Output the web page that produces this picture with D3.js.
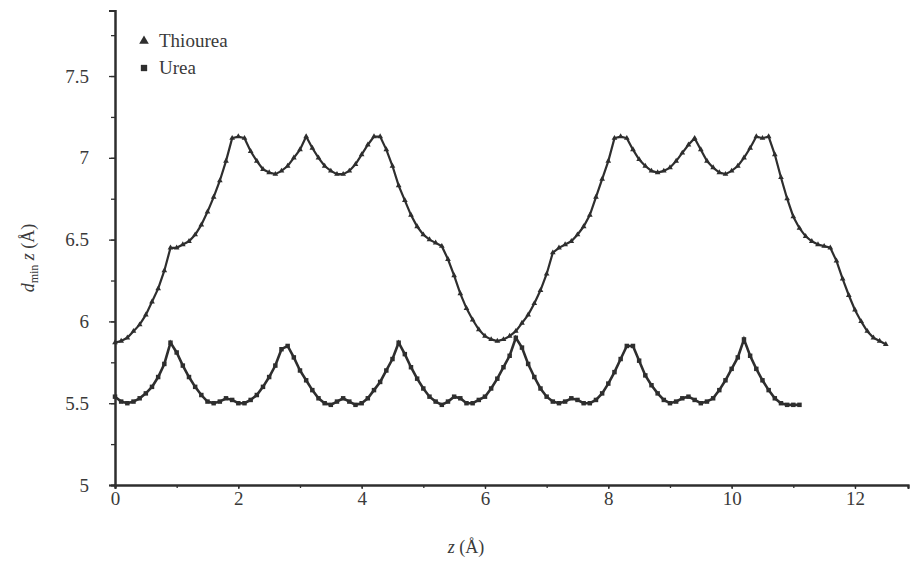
<!DOCTYPE html>
<html>
<head>
<meta charset="utf-8">
<script src="https://cdn.jsdelivr.net/npm/d3@7"></script>
<style>
  body { margin: 0; background: #fff; }
  text { font-family: "Liberation Serif", "DejaVu Serif", serif; fill: #3a3a3a; }
</style>
</head>
<body>
<div id="chart"></div>
<script>
// data
const thioureaZ = [0,0.1,0.2,0.3,0.4,0.5,0.6,0.7,0.8,0.9,1,1.1,1.2,1.3,1.4,1.5,1.6,1.7,1.8,1.9,2,2.1,2.2,2.3,2.4,2.5,2.6,2.7,2.8,2.9,3,3.1,3.2,3.3,3.4,3.5,3.6,3.7,3.8,3.9,4,4.1,4.2,4.3,4.4,4.5,4.6,4.7,4.8,4.9,5,5.1,5.2,5.3,5.4,5.5,5.6,5.7,5.8,5.9,6,6.1,6.2,6.3,6.4,6.5,6.6,6.7,6.8,6.9,7,7.1,7.2,7.3,7.4,7.5,7.6,7.7,7.8,7.9,8,8.1,8.2,8.3,8.4,8.5,8.6,8.7,8.8,8.9,9,9.1,9.2,9.3,9.4,9.5,9.6,9.7,9.8,9.9,10,10.1,10.2,10.3,10.4,10.5,10.6,10.7,10.8,10.9,11,11.1,11.2,11.3,11.4,11.5,11.6,11.7,11.8,11.9,12,12.1,12.2,12.3,12.4,12.5];
const thioureaD = [5.87,5.88,5.90,5.94,5.98,6.04,6.12,6.20,6.31,6.45,6.45,6.47,6.49,6.53,6.59,6.67,6.76,6.86,6.98,7.12,7.13,7.12,7.04,6.98,6.93,6.91,6.90,6.92,6.95,7.00,7.05,7.13,7.06,7.00,6.95,6.92,6.90,6.90,6.92,6.96,7.02,7.08,7.13,7.13,7.05,6.95,6.83,6.74,6.65,6.58,6.53,6.50,6.48,6.46,6.38,6.28,6.17,6.08,6.01,5.95,5.91,5.89,5.88,5.89,5.91,5.94,5.99,6.04,6.11,6.19,6.29,6.42,6.45,6.47,6.49,6.53,6.58,6.65,6.76,6.87,6.98,7.12,7.13,7.12,7.05,6.99,6.95,6.92,6.91,6.92,6.94,6.98,7.03,7.08,7.12,7.05,6.98,6.94,6.91,6.90,6.92,6.95,7.00,7.06,7.13,7.12,7.13,7.02,6.88,6.75,6.64,6.57,6.52,6.49,6.47,6.46,6.45,6.37,6.26,6.16,6.07,6.00,5.94,5.90,5.88,5.86];

const ureaZ = [0,0.1,0.2,0.3,0.4,0.5,0.6,0.7,0.8,0.9,1,1.1,1.2,1.3,1.4,1.5,1.6,1.7,1.8,1.9,2,2.1,2.2,2.3,2.4,2.5,2.6,2.7,2.8,2.9,3,3.1,3.2,3.3,3.4,3.5,3.6,3.7,3.8,3.9,4,4.1,4.2,4.3,4.4,4.5,4.6,4.7,4.8,4.9,5,5.1,5.2,5.3,5.4,5.5,5.6,5.7,5.8,5.9,6,6.1,6.2,6.3,6.4,6.5,6.6,6.7,6.8,6.9,7,7.1,7.2,7.3,7.4,7.5,7.6,7.7,7.8,7.9,8,8.1,8.2,8.3,8.4,8.5,8.6,8.7,8.8,8.9,9,9.1,9.2,9.3,9.4,9.5,9.6,9.7,9.8,9.9,10,10.1,10.2,10.3,10.4,10.5,10.6,10.7,10.8,10.9,11,11.1];
const ureaD = [5.54,5.51,5.50,5.51,5.53,5.56,5.60,5.66,5.74,5.87,5.81,5.73,5.66,5.60,5.55,5.51,5.50,5.51,5.53,5.52,5.50,5.50,5.52,5.55,5.60,5.66,5.73,5.83,5.85,5.78,5.70,5.64,5.58,5.53,5.50,5.49,5.51,5.53,5.51,5.49,5.50,5.53,5.58,5.63,5.70,5.77,5.87,5.80,5.72,5.65,5.59,5.54,5.51,5.49,5.51,5.54,5.53,5.50,5.50,5.52,5.54,5.59,5.65,5.72,5.79,5.90,5.84,5.74,5.66,5.59,5.54,5.51,5.50,5.51,5.53,5.52,5.50,5.50,5.52,5.56,5.62,5.69,5.77,5.85,5.85,5.76,5.67,5.61,5.56,5.52,5.50,5.51,5.53,5.54,5.52,5.50,5.51,5.53,5.58,5.64,5.71,5.78,5.89,5.79,5.71,5.64,5.58,5.53,5.50,5.49,5.49,5.49];

const xTicks = [0, 2, 4, 6, 8, 10, 12];
const yTicks = [5, 5.5, 6, 6.5, 7, 7.5];
const seriesNames = ["Thiourea", "Urea"];

const width = 910;
const height = 588;
const margin = {top: 10, left: 115, right: 2, bottom: 103};

const svg = d3.select("#chart")
    .append("svg")
    .attr("width", width)
    .attr("height", height);

// scales
const xScale = d3.scaleLinear()
    .domain([0, 12.86])
    .range([margin.left, width - margin.right]);

const yScale = d3.scaleLinear()
    .domain([5, 7.9])
    .range([height - margin.bottom, margin.top + 0.6]);

const ink = "#2e2e2e";

// minor ticks
const xAxisMinor = svg.append("g")
    .attr("transform", `translate(0,${yScale(5)})`)
    .call(d3.axisBottom(xScale).tickValues(d3.range(0, 13, 1)).tickSize(3).tickFormat(""));

const yAxisMinor = svg.append("g")
    .attr("transform", `translate(${xScale(0)},0)`)
    .call(d3.axisLeft(yScale).tickValues(d3.range(5, 7.8, 0.25)).tickSize(4).tickFormat(""));

// major axes
const xAxis = svg.append("g")
    .attr("class", "axis")
    .attr("transform", `translate(0,${yScale(5)})`)
    .call(d3.axisBottom(xScale).tickValues(xTicks).tickSize(4).tickPadding(3).tickFormat(d3.format("d")));

const yAxis = svg.append("g")
    .attr("class", "axis")
    .attr("transform", `translate(${xScale(0)},0)`)
    .call(d3.axisLeft(yScale).tickValues(yTicks).tickSize(6).tickPadding(20).tickFormat(d => d));

svg.selectAll(".domain").attr("stroke", ink).attr("stroke-width", 2);
svg.selectAll(".tick line").attr("stroke", ink).attr("stroke-width", 1.3);
svg.selectAll(".tick text")
    .style("font-family", "'Liberation Serif', serif")
    .style("font-size", "19px")
    .attr("fill", "#4a4a4a");

// lines
const line = d3.line()
    .x(d => xScale(d[0]))
    .y(d => yScale(d[1]));

const thioureaData = thioureaZ.map((z, i) => [z, thioureaD[i]]);
const ureaData = ureaZ.map((z, i) => [z, ureaD[i]]);

svg.append("path")
    .datum(thioureaData)
    .attr("fill", "none")
    .attr("stroke", ink)
    .attr("stroke-width", 2.2)
    .attr("d", line);

svg.append("path")
    .datum(ureaData)
    .attr("fill", "none")
    .attr("stroke", ink)
    .attr("stroke-width", 2.6)
    .attr("d", line);

const tri = d3.symbol().type(d3.symbolTriangle).size(14);
const sq = d3.symbol().type(d3.symbolSquare).size(20);

svg.selectAll(".thio")
    .data(thioureaData)
    .enter()
    .append("path")
        .attr("class", "thio")
        .attr("transform", d => `translate(${xScale(d[0])},${yScale(d[1])})`)
        .attr("d", tri)
        .attr("fill", ink);

svg.selectAll(".urea")
    .data(ureaData)
    .enter()
    .append("path")
        .attr("class", "urea")
        .attr("transform", d => `translate(${xScale(d[0])},${yScale(d[1])})`)
        .attr("d", sq)
        .attr("fill", ink);

// legend
const legend = svg.append("g").attr("transform", "translate(144,41)");
legend.append("path")
    .attr("transform", "translate(0,0)")
    .attr("d", d3.symbol().type(d3.symbolTriangle).size(40))
    .attr("fill", ink);
legend.append("path")
    .attr("transform", "translate(0,27)")
    .attr("d", d3.symbol().type(d3.symbolSquare).size(40))
    .attr("fill", ink);
legend.selectAll("text.leg")
    .data(seriesNames)
    .enter()
    .append("text")
        .attr("class", "leg")
        .attr("x", 15)
        .attr("y", (d, i) => i * 27 + 6)
        .style("font-size", "19px")
        .text(d => d);

// axis labels
const xAxisLabel = svg.append("text")
    .attr("x", 466)
    .attr("y", 553)
    .attr("text-anchor", "middle")
    .style("font-size", "18px");
xAxisLabel.append("tspan").style("font-style", "italic").text("z");
xAxisLabel.append("tspan").text(" (Å)");

const yAxisLabel = svg.append("text")
    .attr("transform", "rotate(-90)")
    .attr("x", -258)
    .attr("y", 34)
    .attr("text-anchor", "middle")
    .style("font-size", "18px");
yAxisLabel.append("tspan").style("font-style", "italic").text("d");
yAxisLabel.append("tspan").attr("dy", 4).style("font-size", "12px").text("min");
yAxisLabel.append("tspan").attr("dy", -4).text(" ");
yAxisLabel.append("tspan").style("font-style", "italic").text("z");
yAxisLabel.append("tspan").text(" (Å)");
</script>
</body>
</html>
